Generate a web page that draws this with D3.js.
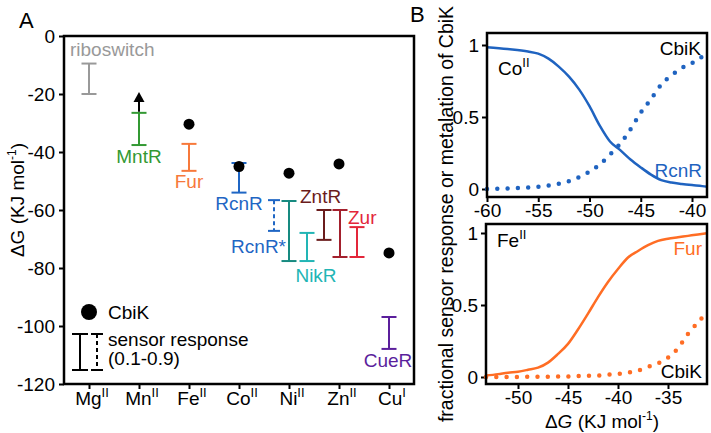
<!DOCTYPE html>
<html><head><meta charset="utf-8">
<script src="https://cdn.jsdelivr.net/npm/d3@7"></script>
<style>body{margin:0;background:#fff} svg{display:block;font-family:Arial,"Liberation Sans",sans-serif}</style>
</head><body><svg id="c" width="711" height="433"></svg>
<script>
// ---------------- DATA ----------------
const metals = ["Mg","Mn","Fe","Co","Ni","Zn","Cu"];
const oxidation = ["II","II","II","II","II","II","I"];
const yTicksA = [0,-20,-40,-60,-80,-100,-120];
const cbikMetalIdx = [2,3,4,5,6];
const cbikDG = [-30.4,-45,-47.3,-44.1,-74.8];
const sensorNames = ["riboswitch","MntR","Fur","RcnR","RcnR*","NikR","NikR","ZntR","Zur","Zur","CueR"];
const sensorCat = [0,1,2,3,3.7,4,4.36,4.7,5.02,5.36,6];
const sensorHigh = [-9.5,-26.5,-37.2,-43.8,-56.6,-56.9,-67.9,-60,-60,-65.9,-96.9];
const sensorLow = [-20,-37.6,-46.5,-54,-67.2,-77.6,-77.6,-70.3,-76.2,-76.2,-107.9];
const mntrArrowTip = -19.3;

const coDG = [-60,-58,-56,-55,-54,-53,-52,-51,-50,-49,-48,-47,-46,-45,-44,-43,-42,-41,-40,-39,-38.5];
const coRcnR = [0.985,0.972,0.955,0.94,0.905,0.85,0.78,0.69,0.575,0.44,0.33,0.27,0.205,0.15,0.1,0.062,0.045,0.035,0.027,0.02,0.015];
const coCbiK = [0,0.004,0.01,0.015,0.024,0.037,0.055,0.083,0.12,0.17,0.24,0.315,0.415,0.53,0.625,0.725,0.79,0.84,0.875,0.92,0.95];
const coXTicks = [-60,-55,-50,-45,-40];

const feDG = [-53.2,-52,-51,-50,-49,-48,-47,-46,-45,-44,-43,-42,-41,-40,-39,-38,-37,-36,-35,-34,-33,-32,-31.1];
const feFur = [0.01,0.02,0.03,0.037,0.05,0.065,0.1,0.16,0.23,0.33,0.44,0.555,0.66,0.75,0.83,0.875,0.915,0.945,0.96,0.97,0.98,0.99,0.998];
const feCbiK = [0,0,0,0,0.001,0.001,0.002,0.003,0.004,0.006,0.008,0.01,0.016,0.022,0.03,0.045,0.07,0.095,0.135,0.2,0.3,0.38,0.45];
const feXTicks = [-50,-45,-40,-35];
const fracTicks = [0,0.5,1];

// ---------------- STYLE ----------------
const sensorColors = ["#999999","#339933","#f7793b","#1f66c4","#1f66c4","#178a80","#22b5b5","#6b1c1c","#a3202d","#e3263a","#5b1f9c"];
const blue = "#1f63c0", orange = "#ff6d24";
const FS = 19;

const svg = d3.select("#c");

function styleAxis(g){
  g.select(".domain").remove();
  g.selectAll(".tick line").attr("stroke","#000").attr("stroke-width",2);
  g.selectAll(".tick text").attr("font-size",FS).attr("fill","#000").attr("font-family","Arial, 'Liberation Sans', sans-serif");
}
function dGLabel(t, italic){
  t.append("tspan").text("Δ");
  t.append("tspan").text("G").attr("font-style", italic ? "italic" : "normal");
  t.append("tspan").text(" (KJ mol");
  t.append("tspan").text("-1").attr("font-size",12).attr("dy",-8);
  t.append("tspan").text(")").attr("dy",8);
}

// ---------------- PANEL A ----------------
const xA = d3.scaleLinear().domain([-0.5,6.5]).range([64,414]);
const yA = d3.scaleLinear().domain([0,-120]).range([36,384]);

svg.append("g").attr("transform","translate(64,0)")
  .call(d3.axisLeft(yA).tickValues(yTicksA).tickFormat(d=>String(d)).tickSize(5).tickPadding(4))
  .call(styleAxis);
svg.append("g").attr("transform","translate(0,384)")
  .call(d3.axisBottom(xA).tickValues(d3.range(metals.length)).tickFormat("").tickSize(5))
  .call(styleAxis);
metals.forEach((m,i)=>{
  const t = svg.append("text").attr("x",xA(i)+3).attr("y",405).attr("text-anchor","middle").attr("font-size",FS);
  t.append("tspan").text(m);
  t.append("tspan").text(oxidation[i]).attr("font-size",13).attr("dy",-8);
});
svg.append("rect").attr("x",64).attr("y",36).attr("width",350).attr("height",348)
  .attr("fill","none").attr("stroke","#000").attr("stroke-width",2.5);

svg.append("text").attr("transform","translate(24,200) rotate(-90)").attr("text-anchor","middle").attr("font-size",FS).call(t=>dGLabel(t,false));
svg.append("text").attr("x",19).attr("y",28).attr("font-size",22).text("A");

// error bars
sensorNames.forEach((n,i)=>{
  const x = xA(sensorCat[i]), c = sensorColors[i];
  const dashed = n === "RcnR*";
  const hw = dashed ? 6 : 7.5;
  const g = svg.append("g").attr("stroke",c).attr("stroke-width",2);
  g.append("line").attr("x1",x).attr("x2",x).attr("y1",yA(sensorHigh[i])).attr("y2",yA(sensorLow[i]))
    .attr("stroke-dasharray", dashed ? "4,3" : null);
  [sensorHigh[i],sensorLow[i]].forEach(v=>{
    g.append("line").attr("x1",x-hw).attr("x2",x+hw).attr("y1",yA(v)).attr("y2",yA(v));
  });
});
// MntR arrow
{
  const x = xA(sensorCat[1]);
  svg.append("line").attr("x1",x).attr("x2",x).attr("y1",yA(sensorHigh[1])-1).attr("y2",yA(mntrArrowTip)+8)
    .attr("stroke","#000").attr("stroke-width",2);
  const tip = yA(mntrArrowTip);
  svg.append("path").attr("d",`M${x},${tip} L${x-5.5},${tip+10} L${x+5.5},${tip+10} Z`).attr("fill","#000");
}
// sensor labels
const lab = (txt,x,y,anchor,col)=>svg.append("text").attr("x",x).attr("y",y).attr("text-anchor",anchor).attr("fill",col).attr("font-size",FS).text(txt);
lab("riboswitch",70,56,"start",sensorColors[0]);
lab("MntR",xA(1),163,"middle",sensorColors[1]);
lab("Fur",xA(2),188,"middle",sensorColors[2]);
lab("RcnR",xA(3),210,"middle",sensorColors[3]);
lab("RcnR*",286,253,"end",sensorColors[4]);
lab("NikR",316,282,"middle",sensorColors[6]);
lab("ZntR",300,203,"start",sensorColors[7]);
lab("Zur",348,224,"start",sensorColors[9]);
lab("CueR",388,367,"middle",sensorColors[10]);

// CbiK dots
svg.selectAll("circle.cbik").data(cbikDG).join("circle").attr("class","cbik")
  .attr("cx",(d,i)=>xA(cbikMetalIdx[i])).attr("cy",d=>yA(d)).attr("r",5.5).attr("fill","#000");

// legend
svg.append("circle").attr("cx",89).attr("cy",312).attr("r",8).attr("fill","#000");
lab("CbiK",108,319,"start","#000");
{
  const g = svg.append("g").attr("stroke","#000").attr("stroke-width",2);
  g.append("line").attr("x1",80).attr("x2",80).attr("y1",334).attr("y2",370);
  g.append("line").attr("x1",72).attr("x2",88).attr("y1",334).attr("y2",334);
  g.append("line").attr("x1",72).attr("x2",88).attr("y1",370).attr("y2",370);
  g.append("line").attr("x1",97).attr("x2",97).attr("y1",334).attr("y2",370).attr("stroke-dasharray","4,3");
  g.append("line").attr("x1",91).attr("x2",103).attr("y1",334).attr("y2",334);
  g.append("line").attr("x1",91).attr("x2",103).attr("y1",370).attr("y2",370);
}
lab("sensor response",108,346,"start","#000");
lab("(0.1-0.9)",108,365,"start","#000");

// ---------------- PANEL B ----------------
svg.append("text").attr("x",410).attr("y",22).attr("font-size",22).text("B");
svg.append("text").attr("transform","translate(453,214) rotate(-90)").attr("text-anchor","middle").attr("font-size",19.5)
  .text("fractional sensor response or metalation of CbiK");

function panel(xDom, xRange, yRange, frame, xticks, dG, solid, dotted, col){
  const x = d3.scaleLinear().domain(xDom).range(xRange);
  const y = d3.scaleLinear().domain([0,1]).range(yRange);
  svg.append("g").attr("transform",`translate(${frame[0]},0)`)
    .call(d3.axisLeft(y).tickValues(fracTicks).tickFormat(d=>String(d)).tickSize(5).tickPadding(3)).call(styleAxis);
  svg.append("g").attr("transform",`translate(0,${frame[3]})`)
    .call(d3.axisBottom(x).tickValues(xticks).tickFormat(d=>String(d)).tickSize(5).tickPadding(2)).call(styleAxis);
  const line = d3.line().x((d,i)=>x(dG[i])).y(d=>y(d)).curve(d3.curveMonotoneX);
  svg.append("path").attr("d",line(solid)).attr("fill","none").attr("stroke",col).attr("stroke-width",2.5);
  svg.append("path").attr("d",line(dotted)).attr("fill","none").attr("stroke",col).attr("stroke-width",4.5)
    .attr("stroke-linecap","round").attr("stroke-dasharray","0,10.3");
  svg.append("rect").attr("x",frame[0]).attr("y",frame[1]).attr("width",frame[2]-frame[0]).attr("height",frame[3]-frame[1])
    .attr("fill","none").attr("stroke","#000").attr("stroke-width",2.5);
  return {x,y};
}
panel([-60,-40],[487,692],[189,45],[487,33,707,197],coXTicks,coDG,coRcnR,coCbiK,blue);
panel([-50,-35],[518,668],[377,233],[486,224,707,384],feXTicks,feDG,feFur,feCbiK,orange);

// panel B labels
lab("CbiK",701,55,"end","#000");
{
  const t = svg.append("text").attr("x",498).attr("y",75).attr("font-size",FS);
  t.append("tspan").text("Co"); t.append("tspan").text("II").attr("font-size",13).attr("dy",-8);
}
lab("RcnR",702,177,"end",blue);
{
  const t = svg.append("text").attr("x",497).attr("y",247).attr("font-size",FS);
  t.append("tspan").text("Fe"); t.append("tspan").text("II").attr("font-size",13).attr("dy",-8);
}
lab("Fur",702,255,"end",orange);
lab("CbiK",702,378,"end","#000");
svg.append("text").attr("x",602).attr("y",428).attr("text-anchor","middle").attr("font-size",FS).call(t=>dGLabel(t,true));
</script></body></html>
